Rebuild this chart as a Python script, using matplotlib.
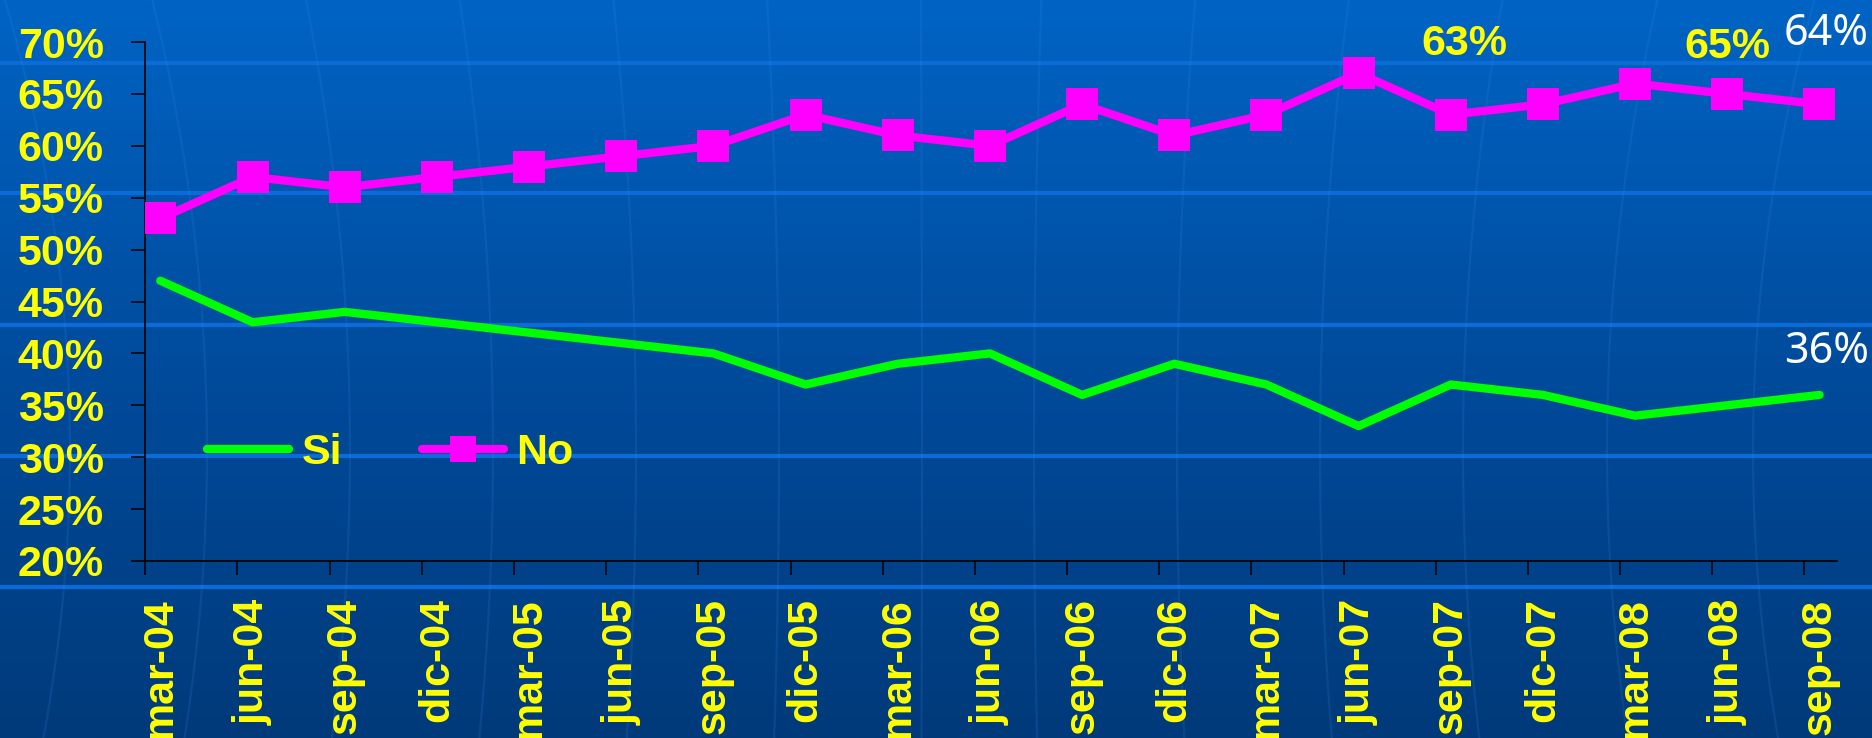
import numpy as np
import matplotlib
matplotlib.use("Agg")
import matplotlib.pyplot as plt
from matplotlib.lines import Line2D
from matplotlib.colors import LinearSegmentedColormap

months = ["mar-04", "jun-04", "sep-04", "dic-04", "mar-05", "jun-05", "sep-05",
          "dic-05", "mar-06", "jun-06", "sep-06", "dic-06", "mar-07", "jun-07",
          "sep-07", "dic-07", "mar-08", "jun-08", "sep-08"]
si = [47, 43, 44, 43, 42, 41, 40, 37, 39, 40, 36, 39, 37, 33, 37, 36, 34, 35, 36]
no = [53, 57, 56, 57, 58, 59, 60, 63, 61, 60, 64, 61, 63, 67, 63, 64, 66, 65, 64]
yticks = [20, 25, 30, 35, 40, 45, 50, 55, 60, 65, 70]

YELLOW = "#FFFF00"
GREEN = "#00FF00"
MAGENTA = "#FF00FF"
W, H = 1872, 738

fig = plt.figure(figsize=(W / 100, H / 100), dpi=100)

# slide background: vertical gradient, light stripes, faint globe meridians
bg = fig.add_axes([0, 0, 1, 1], zorder=-5)
cmap = LinearSegmentedColormap.from_list("slide", ["#0064C4", "#004B9C", "#003A7A"])
bg.imshow(np.linspace(0, 1, 256).reshape(-1, 1), aspect="auto", cmap=cmap,
          extent=[0, W, H, 0])
for yp in [63, 193, 325, 456, 587]:
    bg.axhline(yp, color="#0A6CD8", lw=3)
yy = np.linspace(0, H, 200)
for xm in [70, 207, 350, 493, 636, 779, 922, 1034, 1177, 1320, 1463, 1607, 1753, 1896]:
    d = xm - 936
    xx = xm + 0.075 * d * ((yy - 450) / 450) ** 2
    bg.plot(xx, yy, color="#3A8AE8", lw=1.6, alpha=0.16)
bg.set_xlim(0, W)
bg.set_ylim(H, 0)
bg.axis("off")

ax = fig.add_axes([145.3 / W, 1 - 561 / H, (1837 - 145.3) / W, (561 - 42) / H])
ax.set_facecolor("none")
x = np.arange(len(months))

ax.plot(x, si, color=GREEN, lw=6, solid_capstyle="round", solid_joinstyle="round",
        zorder=3)
ax.plot(x, no, color=MAGENTA, lw=6, marker="s", markersize=23.5, mew=0,
        solid_capstyle="round", solid_joinstyle="round", zorder=4)

ax.set_xlim(-0.163, 18.19)
ax.set_ylim(20, 70)
for s in ["top", "right"]:
    ax.spines[s].set_visible(False)
for s in ["left", "bottom"]:
    ax.spines[s].set_color("black")
    ax.spines[s].set_linewidth(1.2)

bold = dict(family="Liberation Sans", weight="bold", size=31, color=YELLOW)

ax.set_yticks(yticks)
ax.set_yticklabels([f"{v}%" for v in yticks], **bold)
ax.tick_params(axis="y", direction="out", length=10, width=1.1, color="black", pad=20)

ax.set_xticks(x)
ax.set_xticklabels(months, rotation=90, **bold)
ax.tick_params(axis="x", which="major", length=0, pad=27)
ax.set_xticks(x - 0.163, minor=True)
ax.tick_params(axis="x", which="minor", direction="out", length=10, width=1.1,
               color="black")

# value labels
ax.text(14.15, 68.75, "63%", ha="center", va="baseline", clip_on=False, **bold)
ax.text(17.0, 68.46, "65%", ha="center", va="baseline", clip_on=False, **bold)
white = dict(family="Noto Sans", size=31, color="white")
ax.text(18.07, 69.7, "64%", ha="center", va="baseline", clip_on=False, **white)
ax.text(18.08, 39.07, "36%", ha="center", va="baseline", clip_on=False, **white)

handles = [
    Line2D([], [], color=GREEN, lw=6, solid_capstyle="round"),
    Line2D([], [], color=MAGENTA, lw=6, marker="s", markersize=19.4, mew=0,
           solid_capstyle="round"),
]
leg = fig.legend(handles, ["Si", "No"], loc="center left",
                 bbox_to_anchor=(207 / W, 1 - 453 / H), ncol=2, frameon=False,
                 borderaxespad=0, borderpad=0, handlelength=1.9,
                 handletextpad=0.3, columnspacing=1.85,
                 prop=dict(family="Liberation Sans", weight="bold", size=31))
for t in leg.get_texts():
    t.set_color(YELLOW)

fig.savefig("out.png", dpi=100)
